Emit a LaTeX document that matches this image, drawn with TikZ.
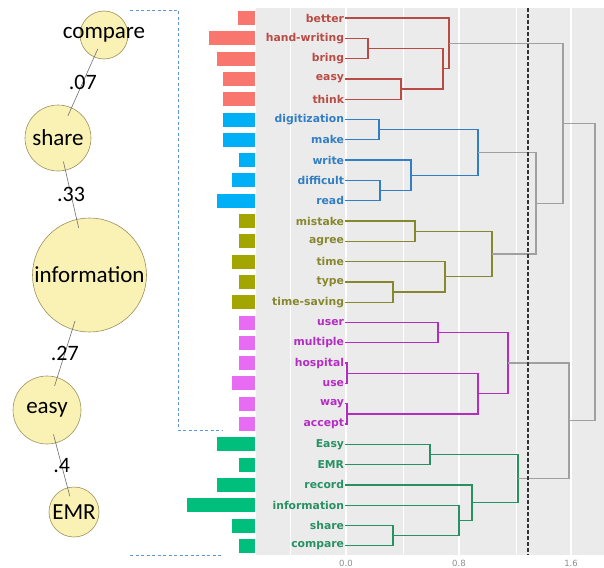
\documentclass[tikz,border=0pt]{standalone}
\usepackage{fontspec}
\usepackage{xcolor}
\usepackage{tikz}
\usetikzlibrary{calc}
\newfontfamily\netfont{Carlito}
\newfontfamily\leaffont{DejaVu Sans}
\definecolor{barred}{HTML}{F8766D}
\definecolor{barblue}{HTML}{00B0F6}
\definecolor{barolive}{HTML}{A3A500}
\definecolor{barpink}{HTML}{E76BF3}
\definecolor{bargreen}{HTML}{00BF7D}
\definecolor{treered}{RGB}{185,75,68}
\definecolor{treeblue}{RGB}{50,125,195}
\definecolor{treeolive}{RGB}{135,135,45}
\definecolor{treepink}{RGB}{180,45,195}
\definecolor{treegreen}{RGB}{40,145,100}
\definecolor{treegray}{RGB}{160,160,160}
\definecolor{panelgray}{RGB}{235,235,235}
\definecolor{bubfill}{RGB}{250,242,180}
\definecolor{bubdraw}{RGB}{155,145,95}
\definecolor{linkgray}{RGB}{110,110,110}
\definecolor{brackblue}{RGB}{95,150,205}
\newcommand{\dmerge}[5]{%
  \coordinate (h#5) at (#4,0);
  \draw[tl,#1] (#2) -- (#2 -| h#5) -- (#3 -| h#5) -- (#3);
  \coordinate (#5) at ($(#2 -| h#5)!.5!(#3 -| h#5)$);}

\begin{document}
\begin{tikzpicture}[x=1pt,y=-1pt,
leaf/.style={anchor=east,inner sep=0.8pt,font=\leaffont\bfseries\fontsize{10.8}{12}\selectfont},
tl/.style={line width=1.3pt},
bub/.style={circle,fill=bubfill,draw=bubdraw,line width=0.6pt,inner sep=0pt},
word/.style={font=\netfont\fontsize{23}{26}\selectfont,inner sep=0pt},
link/.style={draw=linkgray,line width=0.6pt,shorten <=-9pt,shorten >=-9pt},
wt/.style={font=\netfont\fontsize{22}{24}\selectfont,inner sep=0pt},
tick/.style={font=\leaffont\fontsize{8.5}{10}\selectfont,text=black!45},
brack/.style={draw=brackblue,line width=0.8pt,dash pattern=on 3pt off 2.5pt},
cut/.style={draw=black!80,line width=1.3pt,dash pattern=on 4pt off 2pt}]
\useasboundingbox (0,0) rectangle (604,567);
\fill[white] (0,0) rectangle (604,567);
\fill[panelgray] (256,8) rectangle (604,555);
\foreach \gx in {290,403,516} \draw[white,line width=0.6pt] (\gx,8) -- (\gx,555);
\foreach \gx in {346,459,571} \draw[white,line width=1.3pt] (\gx,8) -- (\gx,555);
\node[tick] (t0) at (346,563) {0.0};
\node[tick] (t1) at (459,563) {0.8};
\node[tick] (t2) at (571,563) {1.6};
\foreach \name/\lab/\col/\w [count=\i from 0] in {
better/better/red/238, handwriting/hand-writing/red/209, bring/bring/red/217, easy/easy/red/223, think/think/red/223,
digitization/digitization/blue/223, make/make/blue/223, write/write/blue/239, difficult/difficult/blue/232, read/read/blue/217,
mistake/mistake/olive/239, agree/agree/olive/239, time/time/olive/232, type/type/olive/239, timesaving/time-saving/olive/232,
user/user/pink/239, multiple/multiple/pink/239, hospital/hospital/pink/239, use/use/pink/232, way/way/pink/239, accept/accept/pink/239,
Easy/Easy/green/217, EMR/EMR/green/239, record/record/green/217, information/information/green/187, share/share/green/232, compare/compare/green/239}{
\fill[bar\col] (\w,{18+20.3*\i-7}) rectangle (255,{18+20.3*\i+7});
\node[leaf,text=tree\col] (l\name) at (345,{18+20.3*\i}) {\lab};
}
\dmerge{treered}{lhandwriting.east}{lbring.east}{368}{r1}
\dmerge{treered}{leasy.east}{lthink.east}{401}{r2}
\dmerge{treered}{r1}{r2}{443}{r3}
\dmerge{treered}{lbetter.east}{r3}{449}{r4}
\dmerge{treeblue}{ldigitization.east}{lmake.east}{379}{b1}
\dmerge{treeblue}{ldifficult.east}{lread.east}{380}{b2}
\dmerge{treeblue}{lwrite.east}{b2}{411}{b3}
\dmerge{treeblue}{b1}{b3}{478}{b4}
\dmerge{treeolive}{lmistake.east}{lagree.east}{415}{o1}
\dmerge{treeolive}{ltype.east}{ltimesaving.east}{393}{o2}
\dmerge{treeolive}{ltime.east}{o2}{445}{o3}
\dmerge{treeolive}{o1}{o3}{492}{o4}
\dmerge{treepink}{luser.east}{lmultiple.east}{438}{p1}
\dmerge{treepink}{lhospital.east}{luse.east}{347}{p2}
\dmerge{treepink}{lway.east}{laccept.east}{347}{p3}
\dmerge{treepink}{p2}{p3}{478}{p4}
\dmerge{treepink}{p1}{p4}{508}{p5}
\dmerge{treegreen}{lEasy.east}{lEMR.east}{430}{g1}
\dmerge{treegreen}{lshare.east}{lcompare.east}{393}{g2}
\dmerge{treegreen}{linformation.east}{g2}{459}{g3}
\dmerge{treegreen}{lrecord.east}{g3}{472}{g4}
\dmerge{treegreen}{g1}{g4}{518}{g5}
\dmerge{treegray}{b4}{o4}{536}{k1}
\dmerge{treegray}{r4}{k1}{563}{k2}
\dmerge{treegray}{p5}{g5}{569}{k3}
\dmerge{treegray}{k2}{k3}{595}{k4}
\draw[cut] (528,8) -- (528,555);
\draw[brack] (130,10) -- (178,10) -- (178,430) -- (223,430);
\draw[brack] (130,555) -- (223,555);
\node[bub,minimum size=48pt,label={[word]center:compare}] (ncompare) at (104,35) {};
\node[bub,minimum size=66pt,label={[word]center:share}] (nshare) at (58,138) {};
\node[bub,minimum size=114pt,label={[word]center:information}] (ninformation) at (89.5,275) {};
\node[bub,minimum size=68pt,label={[word]center:easy}] (neasy) at (47,410) {};
\node[bub,minimum size=50pt,label={[word]center:EMR}] (nEMR) at (74,512) {};
\draw[link] (ncompare) -- node[wt] {.07} (nshare);
\draw[link] (nshare) -- node[wt] {.33} (ninformation);
\draw[link] (ninformation) -- node[wt] {.27} (neasy);
\draw[link] (neasy) -- node[wt] {.4} (nEMR);
\end{tikzpicture}
\end{document}
